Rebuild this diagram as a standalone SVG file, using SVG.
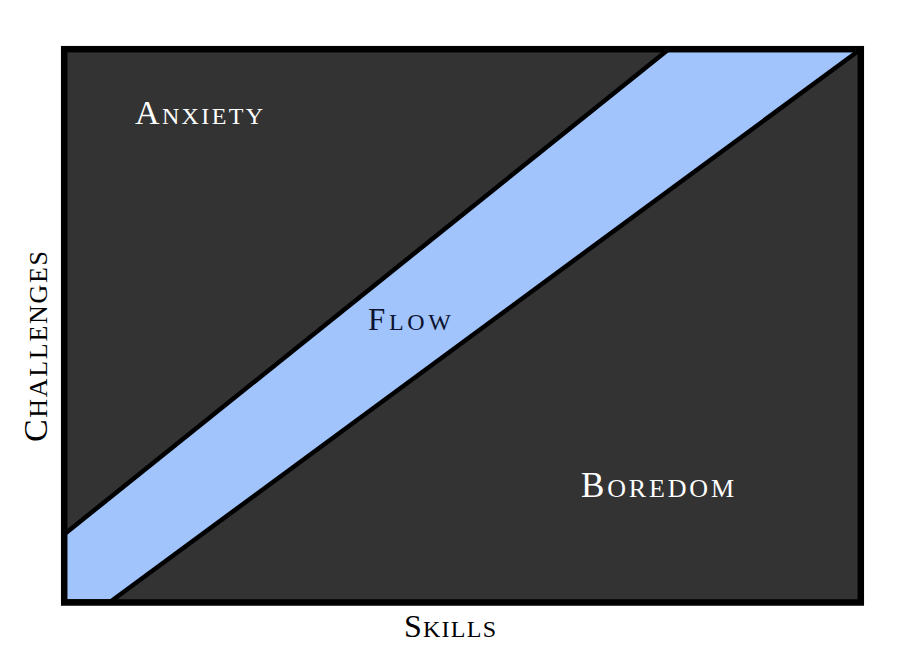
<svg xmlns="http://www.w3.org/2000/svg" width="921" height="665" viewBox="0 0 921 665">
<style>
.lbl{font-family:"Liberation Serif","DejaVu Serif",serif;}
.w{fill:#ffffff;}
.k{fill:#000000;}
.n{fill:#0c1230;}
.line{stroke:#000;stroke-width:4.5;fill:none;}
</style>
<rect x="0" y="0" width="921" height="665" fill="#ffffff"/>
<g id="chart">
<rect x="64.2" y="49.2" width="796.6" height="553.3" fill="#333333"/>
<polygon id="flow-band" points="67,532 667,52 857,52 113,599 67,599" fill="#a0c4fb"/>
<line class="line" x1="64" y1="534.5" x2="669" y2="49"/>
<line class="line" x1="110" y1="602" x2="861" y2="49"/>
<rect x="64.2" y="49.2" width="796.6" height="553.3" fill="none" stroke="#000" stroke-width="6.5"/>
</g>
<g id="anxiety">
<text class="lbl w" x="135" y="123.5" textLength="128" lengthAdjust="spacing"><tspan font-size="34">A</tspan><tspan font-size="24">NXIETY</tspan></text>
</g>
<g id="flow">
<text class="lbl n" x="368" y="330" textLength="83" lengthAdjust="spacing"><tspan font-size="31">F</tspan><tspan font-size="24">LOW</tspan></text>
</g>
<g id="boredom">
<text class="lbl w" x="581" y="497" textLength="153" lengthAdjust="spacing"><tspan font-size="35">B</tspan><tspan font-size="26">OREDOM</tspan></text>
</g>
<g id="skills">
<text class="lbl k" x="404" y="637" textLength="92" lengthAdjust="spacing"><tspan font-size="32">S</tspan><tspan font-size="24">KILLS</tspan></text>
</g>
<g id="challenges">
<text class="lbl k" transform="translate(47,442) rotate(-90)" x="0" y="0" textLength="191" lengthAdjust="spacing"><tspan font-size="34">C</tspan><tspan font-size="26">HALLENGES</tspan></text>
</g>
</svg>
